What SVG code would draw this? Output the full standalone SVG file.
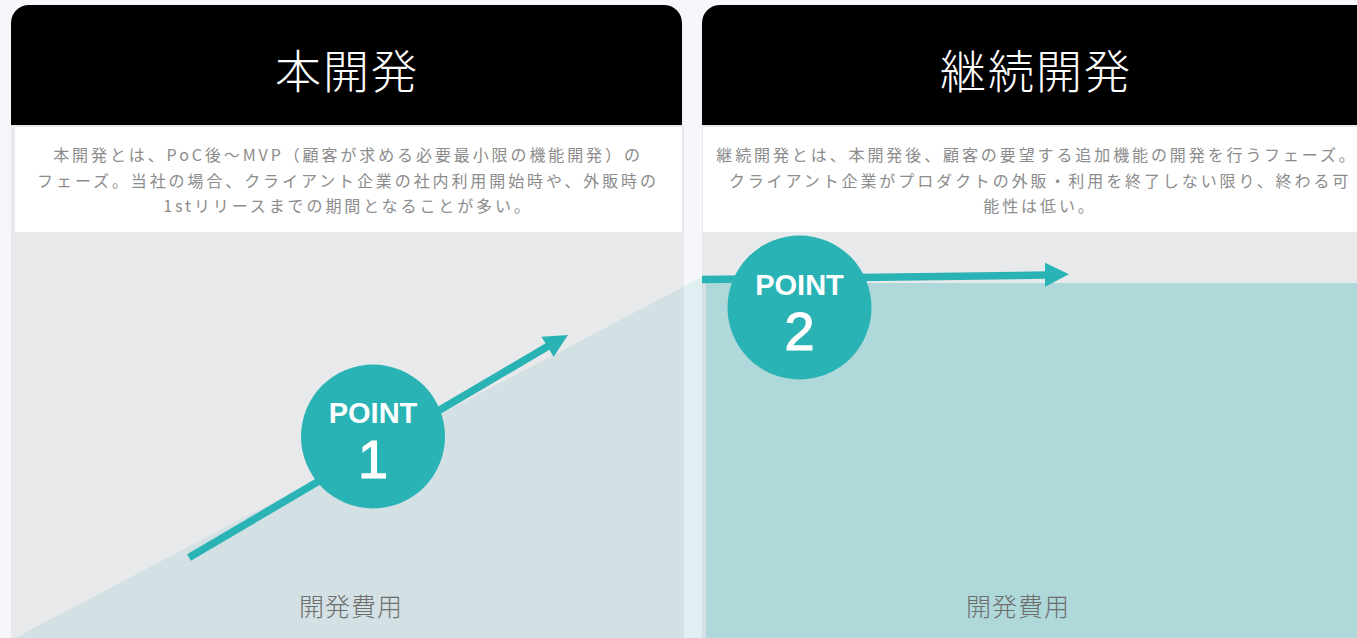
<svg xmlns="http://www.w3.org/2000/svg" width="1357" height="638" viewBox="0 0 1357 638">
<defs>
<style>
.title{font-family:"Noto Sans CJK JP","Noto Sans CJK SC",sans-serif;font-size:46px;font-weight:300;fill:#ffffff;text-anchor:middle;letter-spacing:2px}
.desc{font-family:"Noto Sans CJK JP","Noto Sans CJK SC",sans-serif;font-size:16px;font-weight:400;fill:#8c8c8c;text-anchor:middle;letter-spacing:2.9px}
.label{font-family:"Noto Sans CJK JP","Noto Sans CJK SC",sans-serif;font-size:25px;font-weight:300;fill:#6e6e6e;text-anchor:middle;letter-spacing:1px}
.pt{font-family:"Liberation Sans",Arial,sans-serif;font-weight:700;font-size:29px;fill:#ffffff;text-anchor:middle}
.num{font-family:"Liberation Sans",Arial,sans-serif;font-weight:400;font-size:54px;fill:#ffffff;text-anchor:middle;stroke:#ffffff;stroke-width:1.2px}
.teal{fill:#2ab3b5}
.tline{stroke:#2ab3b5;stroke-width:7.5;fill:none}
.head{fill:#000000}
.chart{fill:#e8e9eb}
.box{fill:#ffffff}
</style>
</defs>
<rect x="0" y="0" width="1357" height="638" fill="#f5f7fa"/>

<g id="panel-honkaihatsu">
  <rect class="chart" x="11" y="125" width="673" height="513"/>
  <path class="head" d="M11,125 V23 A18,18 0 0 1 29,5 H664 A18,18 0 0 1 682,23 V125 Z"/>
  <rect class="box" x="15" y="127" width="667" height="105"/>
  <polygon points="15,638 684,286.4 684,638" fill="#d3e1e4"/>
  <polygon points="684,286.4 702,277 702,638 684,638" fill="#e0eff2"/>
  <text class="title" x="347" y="88">本開発</text>
  <text class="desc" x="348" y="161">本開発とは、PoC後〜MVP（顧客が求める必要最小限の機能開発）の</text>
  <text class="desc" x="348" y="187">フェーズ。当社の場合、クライアント企業の社内利用開始時や、外販時の</text>
  <text class="desc" x="348" y="212">1stリリースまでの期間となることが多い。</text>
  <text class="label" x="351" y="616">開発費用</text>
</g>

<g id="panel-keizokukaihatsu">
  <rect class="chart" x="702" y="125" width="671" height="513"/>
  <path class="head" d="M702,125 V23 A18,18 0 0 1 720,5 H1355 A18,18 0 0 1 1373,23 V125 Z"/>
  <rect class="box" x="703" y="127" width="680" height="105"/>
  <rect x="702" y="283" width="4" height="355" fill="#d6e1e3"/>
  <rect x="706" y="283" width="660" height="355" fill="#aed8da"/>
  <text class="title" x="1036" y="88">継続開発</text>
  <text class="desc" x="1037" y="161">継続開発とは、本開発後、顧客の要望する追加機能の開発を行うフェーズ。</text>
  <text class="desc" x="1040" y="187">クライアント企業がプロダクトの外販・利用を終了しない限り、終わる可</text>
  <text class="desc" x="1040" y="212">能性は低い。</text>
  <text class="label" x="1018" y="616">開発費用</text>
</g>

<g id="connectors">
  <line class="tline" x1="189" y1="557.5" x2="551" y2="344.5"/>
  <polygon class="teal" points="568,335 541.5,336.7 553.6,356.7"/>
  <line class="tline" x1="702" y1="279.5" x2="1048" y2="275"/>
  <polygon class="teal" points="1045,262.7 1069,274.3 1045,286.7"/>
</g>

<g id="point-1">
  <circle class="teal" cx="373" cy="436.5" r="72"/>
  <text class="pt" x="373" y="423">POINT</text>
  <text class="num" x="373" y="478">1</text>
</g>

<g id="point-2">
  <circle class="teal" cx="799.5" cy="307.5" r="72"/>
  <text class="pt" x="799.5" y="295">POINT</text>
  <text class="num" x="799.5" y="350">2</text>
</g>
</svg>
